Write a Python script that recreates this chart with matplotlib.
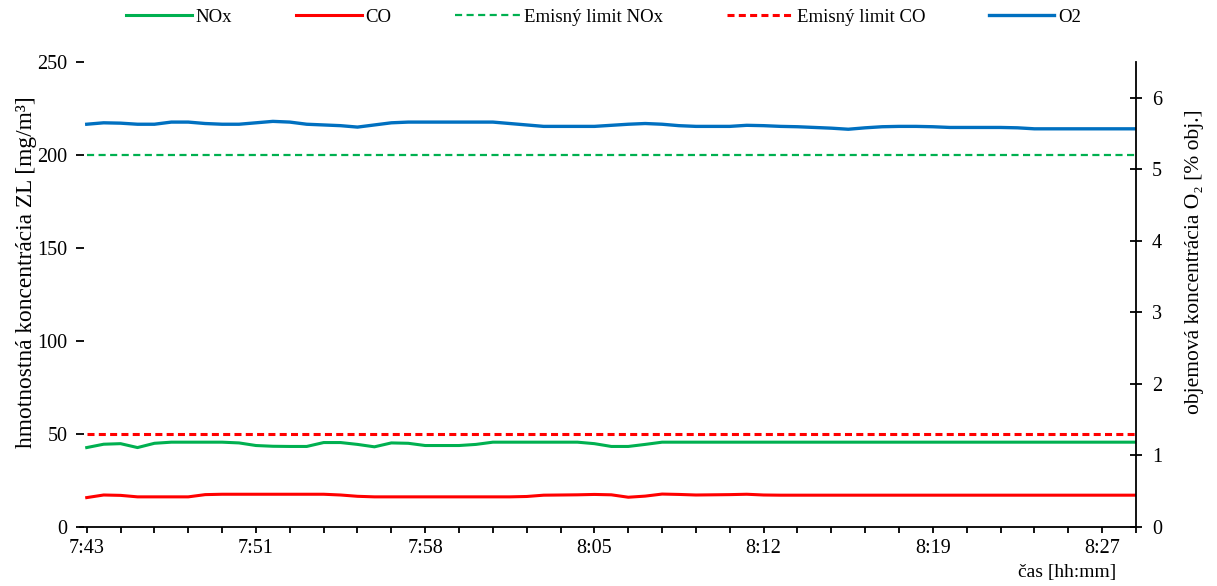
import numpy as np
import matplotlib.pyplot as plt

plt.rcParams['font.family'] = ['Liberation Serif', 'DejaVu Serif']

# x axis: sample index (every half step between category ticks)
time_labels = ['7:43', '7:51', '7:58', '8:05', '8:12', '8:19', '8:27']
sample_idx = np.arange(0, 31.01, 0.5)

nox = [42.7, 44.5, 44.8, 42.7, 45.0, 45.6, 45.6, 45.6, 45.6, 45.2,
       43.8, 43.4, 43.3, 43.3, 45.4, 45.4, 44.4, 43.1, 45.2, 45.0,
       43.8, 43.8, 43.8, 44.4, 45.6, 45.6, 45.6, 45.6, 45.6, 45.6,
       44.8, 43.3, 43.3, 44.4, 45.6, 45.6, 45.6, 45.6, 45.6, 45.6,
       45.6, 45.6, 45.6, 45.6, 45.6, 45.6, 45.6, 45.6, 45.6, 45.6,
       45.6, 45.6, 45.6, 45.6, 45.6, 45.6, 45.6, 45.6, 45.6, 45.6,
       45.6, 45.6, 45.6]

co = [15.8, 17.2, 17.0, 16.2, 16.2, 16.2, 16.2, 17.4, 17.6, 17.6,
      17.6, 17.6, 17.6, 17.6, 17.6, 17.2, 16.5, 16.2, 16.2, 16.2,
      16.2, 16.2, 16.2, 16.2, 16.2, 16.2, 16.4, 17.1, 17.2, 17.3,
      17.5, 17.3, 16.0, 16.6, 17.7, 17.5, 17.2, 17.3, 17.4, 17.6,
      17.2, 17.1, 17.1, 17.1, 17.1, 17.1, 17.1, 17.1, 17.1, 17.1,
      17.1, 17.1, 17.1, 17.1, 17.1, 17.1, 17.1, 17.1, 17.1, 17.1,
      17.1, 17.1, 17.1]

o2 = [5.63, 5.65, 5.645, 5.63, 5.63, 5.66, 5.66, 5.64, 5.63, 5.63,
      5.65, 5.67, 5.66, 5.63, 5.62, 5.61, 5.59, 5.62, 5.65, 5.66,
      5.66, 5.66, 5.66, 5.66, 5.66, 5.64, 5.62, 5.60, 5.60, 5.60,
      5.60, 5.615, 5.63, 5.64, 5.63, 5.61, 5.60, 5.60, 5.60, 5.615,
      5.61, 5.60, 5.595, 5.585, 5.575, 5.56, 5.58, 5.595, 5.60, 5.60,
      5.595, 5.585, 5.585, 5.585, 5.585, 5.58, 5.566, 5.566, 5.566, 5.566,
      5.566, 5.566, 5.566]

nox_limit = 200
co_limit = 50

green = '#00B050'
red = '#FF0000'
blue = '#0070C0'

fig = plt.figure(figsize=(12.17, 5.86), dpi=100)
ax = fig.add_axes([0.0657, 0.1007, 0.8677, 0.7935])
ax2 = ax.twinx()

l1, = ax.plot(sample_idx, nox, color=green, lw=2.2, label='NOx')
l2, = ax.plot(sample_idx, co, color=red, lw=2.2, label='CO')
l3, = ax.plot(sample_idx, np.full(len(sample_idx), nox_limit), color=green, lw=1.6,
              dashes=(3.2, 2.0), label='Emisný limit NOx')
l4, = ax.plot(sample_idx, np.full(len(sample_idx), co_limit), color=red, lw=2.2,
              dashes=(2.3, 1.4), label='Emisný limit CO')
l5, = ax2.plot(sample_idx, o2, color=blue, lw=2.4, label='O2')

ax.set_xlim(-0.2, 31.0)
ax.set_ylim(0, 250)
ax2.set_ylim(0, 6.5)

ax.set_xticks(np.arange(0, 32, 1), minor=True)
ax.set_xticks(np.arange(0, 31, 5))
ax.set_xticklabels(time_labels)
ax.set_yticks(np.arange(0, 251, 50))
ax2.set_yticks(np.arange(0, 7, 1))

for a in (ax, ax2):
    for s in ('top', 'left', 'right'):
        a.spines[s].set_visible(False)
ax2.spines['bottom'].set_visible(False)
ax2.spines['right'].set_visible(True)
ax.spines['bottom'].set_linewidth(1.3)
ax2.spines['right'].set_linewidth(1.3)

ax.tick_params(axis='x', which='both', direction='out', length=4, width=1.3,
               labelsize=14.5, pad=5)
ax.tick_params(axis='y', direction='inout', length=6, width=1.3, labelsize=14.5, pad=6)
ax2.tick_params(axis='y', direction='inout', length=9, width=1.3, labelsize=14.5, pad=7)

fig.text(27 / 1217, 1 - 272 / 586, 'hmotnostná koncentrácia ZL [mg/m³]',
         rotation=90, ha='center', va='center', fontsize=16.8)
fig.text(1195 / 1217, 1 - 262 / 586, 'objemová koncentrácia O₂ [% obj.]',
         rotation=90, ha='center', va='center', fontsize=15.5)
fig.text(1116 / 1217, 1 - 572 / 586, 'čas [hh:mm]', ha='right', va='center',
         fontsize=14)

fig.legend(handles=[l1, l2, l3, l4, l5], loc='center', ncol=5,
           bbox_to_anchor=(0.496, 1 - 17 / 586), frameon=False, fontsize=13.5,
           handlelength=3.5, handletextpad=0.2, columnspacing=3.4)

fig.savefig('out.png', dpi=100)
